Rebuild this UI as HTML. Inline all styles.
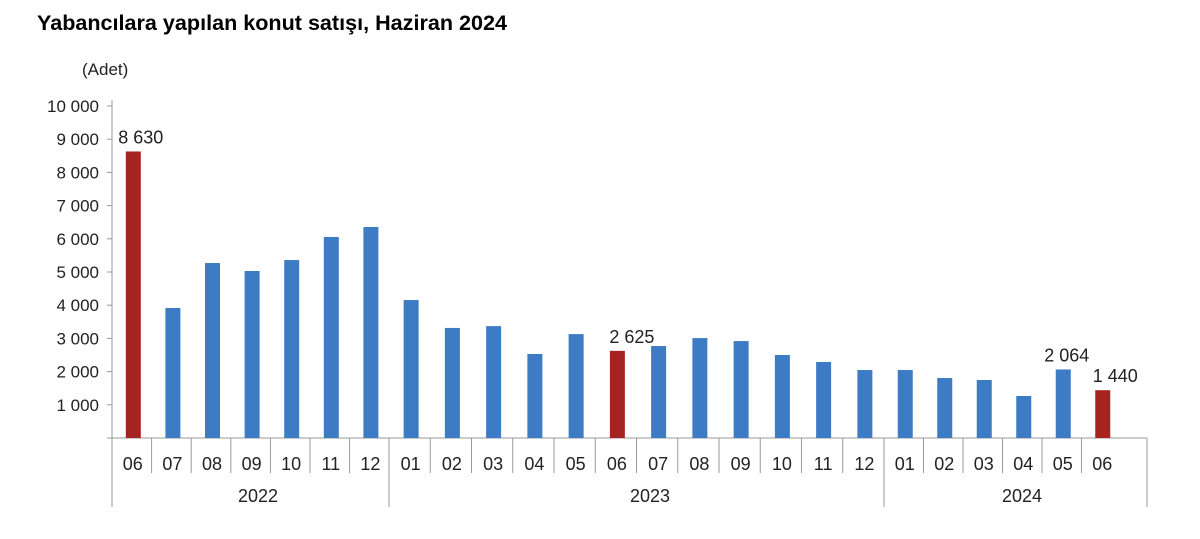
<!DOCTYPE html>
<html><head><meta charset="utf-8"><style>body{margin:0;background:#fff}svg{display:block}</style></head><body>
<svg width="1200" height="539" xmlns="http://www.w3.org/2000/svg" font-family="Liberation Sans, Arial, sans-serif">
<text x="37" y="30" font-size="21" font-weight="bold" fill="#000" textLength="470" lengthAdjust="spacingAndGlyphs">Yabancılara yapılan konut satışı, Haziran 2024</text>
<text x="82" y="75" font-size="17" fill="#222">(Adet)</text>
<g font-size="17" fill="#222" text-anchor="end" id="yl"></g>
<g id="g"></g>
<script>
var s='http://www.w3.org/2000/svg';
function el(t,a,txt,p){var e=document.createElementNS(s,t);for(var k in a)e.setAttribute(k,a[k]);if(txt!=null)e.textContent=txt;(p||document.getElementById('g')).appendChild(e);return e;}
var y0=438,sc=0.0332;
el('line',{x1:112,y1:100,x2:112,y2:507,stroke:'#999','stroke-width':1});
for(var i=0;i<=10;i++){var y=y0-i*1000*sc;
 el('line',{x1:107,y1:y,x2:112,y2:y,stroke:'#999'});
 if(i>0)el('text',{x:99,y:y+6},(i==10?'10 000':i+' 000'),document.getElementById('yl'));}
el('line',{x1:112,y1:y0,x2:1147,y2:y0,stroke:'#999'});
var vals=[8630,3916,5270,5030,5360,6055,6355,4155,3315,3370,2530,3130,2625,2770,3010,2920,2500,2290,2048,2048,1807,1747,1265,2064,1440];
var months=['06','07','08','09','10','11','12','01','02','03','04','05','06','07','08','09','10','11','12','01','02','03','04','05','06'];
var xs=[];
for(var i=0;i<7;i++)xs.push([112+i*39.6,39.6]);
for(var i=0;i<12;i++)xs.push([389+i*41.25,41.25]);
for(var i=0;i<6;i++)xs.push([884+i*39.5,39.5]);
var red={0:1,12:1,24:1};
for(var i=0;i<25;i++){var x=xs[i][0],w=xs[i][1],c=x+w/2,h=vals[i]*sc;
 el('rect',{x:c-7+1,y:y0-h,width:15,height:h,fill:red[i]?'#a52422':'#3d7cc4'});
 el('text',{x:c+1,y:470,'font-size':'18',fill:'#222','text-anchor':'middle'},months[i]);
 if(i>0&&i!=7&&i!=19)el('line',{x1:x,y1:y0,x2:x,y2:473,stroke:'#999'});}
[112,389,884,1147].forEach(function(x){el('line',{x1:x,y1:y0,x2:x,y2:507,stroke:'#999'});});
el('text',{x:258,y:502,'font-size':'18',fill:'#222','text-anchor':'middle'},'2022');
el('text',{x:650,y:502,'font-size':'18',fill:'#222','text-anchor':'middle'},'2023');
el('text',{x:1022,y:502,'font-size':'18',fill:'#222','text-anchor':'middle'},'2024');
var lab=[[0,'8 630',-1],[12,'2 625',6],[23,'2 064',-5],[24,'1 440',4]];
lab.forEach(function(l){var i=l[0],c=xs[i][0]+xs[i][1]/2;el('text',{x:c+l[2]+10,y:y0-vals[i]*sc-8,'font-size':'18',fill:'#222','text-anchor':'middle'},l[1]);});
</script>
</svg>
</body></html>
